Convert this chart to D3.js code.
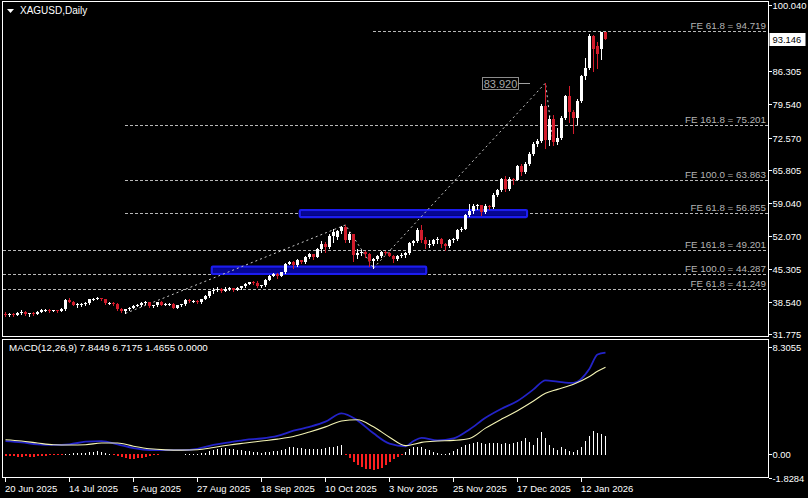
<!DOCTYPE html>
<html><head><meta charset="utf-8">
<script src="https://cdn.jsdelivr.net/npm/d3@7"></script>
<style>
html,body{margin:0;padding:0;background:#000;}
svg{display:block;}
text{font-family:"Liberation Sans",Arial,sans-serif;}
</style></head><body>
<svg id="c" width="808" height="498"></svg>
<script>
// ---- DATA (bar index 0 = 20 Jun 2025, daily bars) ----
const opens  = [36.0,35.9,36.0,35.8,36.1,36.5,36.0,36.1,36.0,36.5,36.8,36.9,36.7,36.8,36.6,37.0,38.9,38.5,37.9,38.0,38.1,38.2,39.0,39.2,39.3,39.0,38.2,38.3,38.1,37.1,36.7,37.0,37.3,37.7,37.8,38.3,38.4,37.6,37.8,38.4,37.9,38.0,38.1,37.3,37.8,38.0,38.9,38.6,38.7,38.4,39.1,39.7,40.7,40.9,41.2,40.8,41.2,41.3,41.0,41.3,41.7,42.3,42.6,42.5,41.7,42.0,43.1,43.9,44.2,43.9,44.6,46.4,46.8,46.2,47.1,46.7,47.8,48.4,47.9,49.4,50.6,49.8,52.2,52.0,53.2,54.1,51.3,52.5,48.3,48.6,48.9,48.5,46.9,47.4,48.0,48.8,48.6,48.1,47.4,48.0,48.2,48.6,50.8,51.2,53.4,51.4,50.5,50.6,51.3,51.5,50.5,50.0,51.3,51.6,53.4,53.7,56.5,57.4,58.4,58.6,57.1,58.3,58.2,60.7,61.8,63.9,62.0,64.0,63.8,66.6,65.5,67.2,69.1,71.3,71.8,79.2,72.1,76.5,71.6,72.6,76.6,81.2,77.8,76.6,80.1,85.3,87.0,93.6,91.6,90.9,94.4];
const highs  = [36.3,36.2,36.1,36.3,36.8,36.6,36.2,36.3,36.6,37.0,37.0,37.0,36.9,36.9,37.2,39.0,39.3,38.7,38.2,38.3,38.4,39.1,39.3,39.5,39.4,39.1,38.5,38.4,38.2,37.2,37.1,37.5,37.8,38.0,38.4,38.6,38.5,37.9,38.5,38.6,38.2,38.2,38.2,37.9,38.1,39.0,39.1,38.8,38.8,39.2,39.9,40.8,41.3,41.5,41.3,41.6,41.5,41.4,41.5,41.8,42.5,42.7,42.9,42.8,42.1,43.2,44.0,44.5,44.4,44.7,46.6,47.0,46.9,47.3,47.2,48.0,48.7,48.5,49.6,51.2,51.0,52.6,53.6,53.5,54.3,54.47,52.9,52.6,49.4,49.2,49.0,48.7,47.6,48.3,49.0,49.1,48.9,48.3,48.2,48.6,48.8,51.0,51.4,53.8,54.4,52.0,51.3,51.6,51.9,51.8,50.8,51.6,51.8,53.7,54.0,56.8,58.8,58.9,58.9,58.7,58.9,58.7,61.0,62.0,64.2,64.6,64.4,64.3,66.9,67.1,67.5,69.5,71.6,72.3,79.5,83.92,77.0,77.2,74.5,77.0,81.5,83.2,78.3,80.5,85.6,89.2,94.0,93.9,92.4,94.6,94.6];
const lows   = [35.6,35.6,35.5,35.7,36.0,35.8,35.5,35.8,35.9,36.4,36.7,36.5,36.6,36.4,36.6,36.9,38.4,37.8,37.4,37.7,37.9,38.1,38.8,39.0,38.9,38.1,38.0,37.9,36.9,36.5,36.12,36.9,37.2,37.6,37.7,38.1,37.4,37.5,37.7,37.8,37.8,37.9,37.2,37.2,37.7,37.8,38.5,38.4,38.2,38.3,39.0,39.6,40.3,40.8,40.6,40.7,41.0,40.8,40.9,41.2,41.6,42.2,42.3,41.5,41.6,41.9,43.0,43.8,43.4,43.8,44.5,46.3,45.5,46.0,46.5,46.6,47.7,47.4,47.8,48.9,48.9,49.7,50.9,51.5,52.8,50.9,50.9,47.0,47.6,48.2,47.8,46.0,45.517,47.2,47.8,48.4,48.0,46.8,47.1,47.8,47.9,48.5,50.4,50.9,51.0,49.6,49.9,50.3,50.8,49.9,49.3,49.8,50.9,51.4,53.2,53.6,56.3,57.0,57.8,56.5,57.0,57.7,58.0,60.4,61.5,61.5,61.8,62.9,63.7,64.8,65.3,67.0,68.9,70.8,71.6,70.5,71.0,70.986,71.2,72.3,76.4,75.9,73.6,75.4,80.0,84.8,86.8,86.5,87.1,88.8,93.0];
const closes = [35.9,36.0,35.8,36.1,36.5,36.0,36.1,36.0,36.5,36.8,36.9,36.7,36.8,36.6,37.0,38.9,38.5,37.9,38.0,38.1,38.2,39.0,39.2,39.3,39.0,38.2,38.3,38.1,37.1,36.7,37.0,37.3,37.7,37.8,38.3,38.4,37.6,37.8,38.4,37.9,38.0,38.1,37.3,37.8,38.0,38.9,38.6,38.7,38.4,39.1,39.7,40.7,40.9,41.2,40.8,41.2,41.3,41.0,41.3,41.7,42.3,42.6,42.5,41.7,42.0,43.1,43.9,44.2,43.9,44.6,46.4,46.8,46.2,47.1,46.7,47.8,48.4,47.9,49.4,50.6,49.8,52.2,53.0,53.2,54.1,51.3,52.5,48.3,48.6,48.9,48.5,46.9,47.4,48.0,48.8,48.6,48.1,47.4,48.0,48.2,48.6,50.8,51.2,53.4,51.4,50.5,50.6,51.3,51.5,50.5,50.0,51.3,51.6,53.4,53.7,56.5,57.4,58.4,58.6,57.1,58.3,58.2,60.7,61.8,63.9,62.0,64.0,63.8,66.6,65.5,67.2,69.1,71.3,71.8,79.2,72.1,76.5,71.6,72.6,76.6,81.2,77.8,76.6,80.1,85.3,87.0,93.6,91.0,89.9,94.4,93.146];

const dateTickIdx    = [0,16,32,48,64,80,96,112,128,144];
const dateTickLabels = ["20 Jun 2025","14 Jul 2025","5 Aug 2025","27 Aug 2025","18 Sep 2025","10 Oct 2025","3 Nov 2025","25 Nov 2025","17 Dec 2025","12 Jan 2026"];
const priceTicks      = [100.040,86.305,79.540,72.570,65.805,59.040,52.070,45.305,38.540,31.775];
const priceTickLabels = ["100.040","86.305","79.540","72.570","65.805","59.040","52.070","45.305","38.540","31.775"];
const currentPrice = 93.146;

// Fibonacci expansion levels: label, price, bar index where the level starts (null = off chart)
const feLabels = ["FE 61.8 = 94.719","FE 161.8 = 75.201","FE 100.0 = 63.863","FE 61.8 = 56.855","FE 161.8 = 49.201","FE 100.0 = 44.287","FE 61.8 = 41.249"];
const feValues = [94.719,75.201,63.863,56.855,49.201,44.287,41.249];
const feStart  = [92,30,30,30,null,null,null];

// Expansion anchor points (bar index, price): A -> B -> C
const fe1Idx = [30,85,92],  fe1Val = [36.12,54.47,45.517];
const fe2Idx = [92,135,137], fe2Val = [45.517,83.92,70.986];
const peakLabel = "83.920";

// Zones (bar index from/to, price top/bottom)
const zoneFrom = [73.7,51.7], zoneTo = [130.5,105.3];
const zoneTop  = [57.55,45.8], zoneBottom = [56.1,44.3];

// MACD(12,26,9)
const macdIdx    = [0,4,8,12,16,20,24,28,32,36,40,44,48,52,56,60,64,68,72,76,80,84,88,92,96,100,102,104,108,112,116,120,124,128,132,135,138,142,146,148,150];
const macdMain   = [1.0,0.9,0.75,0.7,0.75,0.95,1.0,0.75,0.45,0.3,0.3,0.3,0.4,0.7,0.9,1.1,1.2,1.4,1.8,2.1,2.5,3.15,2.6,1.6,0.8,0.6,1.0,1.25,1.05,1.2,1.9,2.8,3.5,4.1,5.0,5.7,5.6,5.5,6.6,7.7,7.85];
const macdSignal = [1.1,1.0,0.85,0.72,0.7,0.72,0.85,0.85,0.6,0.4,0.32,0.3,0.33,0.5,0.7,0.85,1.0,1.15,1.35,1.7,2.1,2.55,2.65,2.1,1.3,0.65,0.75,0.9,1.0,1.05,1.2,2.0,2.7,3.35,4.1,4.7,5.0,5.4,6.0,6.4,6.72];
const macdHist = [-0.12,-0.15,-0.18,-0.2,-0.2,-0.18,-0.2,-0.2,-0.18,-0.15,-0.12,-0.1,-0.08,-0.06,-0.04,
 0.05,0.1,0.12,0.15,0.15,0.18,0.2,0.25,0.28,0.25,
 0.12,0.05,-0.05,
 -0.15,-0.22,-0.3,-0.35,-0.35,-0.32,-0.28,-0.2,-0.12,
 -0.05,-0.02,0.02,0.03,0.03,0.02,0.01,0.02,0.04,0.06,0.05,0.08,
 0.12,0.18,0.3,0.4,0.5,0.55,0.55,0.5,0.45,0.4,
 0.35,0.3,0.28,0.25,0.2,0.18,0.2,0.25,0.3,0.3,
 0.35,0.5,0.6,0.6,0.55,0.55,0.5,0.5,0.45,0.45,0.5,0.55,0.6,0.65,0.7,0.75,
 -0.1,-0.3,-0.6,-0.85,-1.0,-1.15,-1.2,-1.25,-1.2,-1.05,-0.85,-0.6,-0.4,-0.2,-0.05,
 0.25,0.45,0.6,0.65,0.6,0.5,0.35,
 0.2,0.12,0.05,0.08,0.15,
 0.3,0.45,0.6,0.75,0.85,0.9,
 1.0,0.9,0.85,0.9,0.95,0.9,0.85,0.9,0.85,0.9,1.0,1.1,1.3,1.0,0.8,1.3,1.75,
 1.3,0.8,0.55,0.35,0.6,0.45,0.3,0.25,0.35,
 0.6,1.1,1.5,1.85,1.7,1.6,1.47];
const macdTicks = [8.3055,0.0,-1.8284];
const macdTickLabels = ["8.3055","0.00","-1.8284"];
const macdTitle = "MACD(12,26,9) 7.8449 6.7175 1.4655 0.0000";
const chartTitle = "XAGUSD,Daily";

// ---- LAYOUT ----
const W = 808, H = 498;
const L = 2.5, R = 768.5;
const mainTop = 1.5, mainBot = 336.5;
const subTop = 339.5, subBot = 477.5;

const svg = d3.select("#c");
svg.append("rect").attr("width",W).attr("height",H).attr("fill","#000");

const x = d3.scaleLinear().domain([0,150]).range([5,605]);
const y = d3.scaleLinear().domain([31.775,100.040]).range([334.3,5.3]);
const ym = d3.scaleLinear().domain([-1.8284,8.3055]).range([477.6,346.7]);
const cx = i => Math.round(x(i)) + 0.5;
const py = v => Math.round(y(v)) + 0.5;

const gMain = svg.append("g");

// FE level lines
feValues.forEach((v,k) => {
  const x0 = feStart[k] === null ? L : x(feStart[k]);
  gMain.append("line").attr("x1",x0).attr("x2",R-1).attr("y1",py(v)).attr("y2",py(v))
    .attr("stroke","#b8b8b8").attr("stroke-width",1).attr("stroke-dasharray","3,2")
    .attr("shape-rendering","crispEdges");
  gMain.append("text").attr("x",766).attr("y",py(v)-3).attr("text-anchor","end")
    .attr("fill","#b4b4b4").attr("font-size",9.8).text(feLabels[k]);
});

// Zones
zoneFrom.forEach((f,k) => {
  const x0 = x(f), x1 = x(zoneTo[k]);
  const y0 = y(zoneTop[k]), y1 = y(zoneBottom[k]);
  gMain.append("rect").attr("x",x0).attr("y",y0).attr("width",x1-x0).attr("height",y1-y0)
    .attr("fill","#000070").attr("stroke","#1c1cf0").attr("stroke-width",2.2).attr("rx",1);
  gMain.append("rect").attr("x",x0+1.5).attr("y",y0+1.5).attr("width",x1-x0-3).attr("height",Math.max(0,y1-y0-3))
    .attr("fill","#0a0aa8").attr("opacity",0.6);
});

// Expansion trend lines
[[fe1Idx,fe1Val],[fe2Idx,fe2Val]].forEach(([ix,vv]) => {
  const pts = ix.map((i,k)=>[x(i)+0.5, y(vv[k])]);
  gMain.append("path").attr("d",d3.line()(pts)).attr("fill","none")
    .attr("stroke","#c8c8c8").attr("stroke-width",1).attr("stroke-dasharray","2,3");
});

// Candles
const n = closes.length;
const red = "#d41c2c";
for (let i=0;i<n;i++){
  const up = closes[i] >= opens[i];
  const col = up ? "#ffffff" : red;
  const c = cx(i);
  gMain.append("line").attr("x1",c).attr("x2",c).attr("y1",Math.round(y(highs[i]))).attr("y2",Math.round(y(lows[i]))+1)
    .attr("stroke",col).attr("stroke-width",1).attr("shape-rendering","crispEdges");
  const t = Math.round(y(Math.max(opens[i],closes[i])));
  const b = Math.round(y(Math.min(opens[i],closes[i])));
  gMain.append("rect").attr("x",c-1.5).attr("y",t).attr("width",3).attr("height",Math.max(1,b-t))
    .attr("fill",col).attr("shape-rendering","crispEdges");
}

// Peak price label
{
  const pxB = x(fe2Idx[1]);
  const yy = Math.round(y(peakLabel*1)) + 0.5;
  gMain.append("rect").attr("x",pxB-62.5).attr("y",yy-6).attr("width",36).attr("height",12)
    .attr("fill","#000").attr("stroke","#8c8c8c").attr("stroke-width",1);
  gMain.append("text").attr("x",pxB-44.5).attr("y",yy+4.2).attr("text-anchor","middle")
    .attr("fill","#a8a8a8").attr("font-size",11).text(peakLabel);
  gMain.append("line").attr("x1",pxB-26.5).attr("x2",pxB-15).attr("y1",yy).attr("y2",yy)
    .attr("stroke","#a0a0a0").attr("stroke-width",1);
}

// Frames
svg.append("rect").attr("x",L).attr("y",mainTop).attr("width",R-L).attr("height",mainBot-mainTop)
  .attr("fill","none").attr("stroke","#ffffff").attr("stroke-width",1).attr("shape-rendering","crispEdges");
svg.append("rect").attr("x",L).attr("y",subTop).attr("width",R-L).attr("height",subBot-subTop)
  .attr("fill","none").attr("stroke","#ffffff").attr("stroke-width",1).attr("shape-rendering","crispEdges");

// Price axis
priceTicks.forEach((v,k)=>{
  const yy = py(v);
  svg.append("line").attr("x1",R).attr("x2",R+3).attr("y1",yy).attr("y2",yy).attr("stroke","#fff").attr("shape-rendering","crispEdges");
  svg.append("text").attr("x",772.5).attr("y",yy+3.5).attr("fill","#ffffff").attr("font-size",9.4).text(priceTickLabels[k]);
});
// Current price box
{
  const yy = py(currentPrice);
  svg.append("rect").attr("x",769.5).attr("y",yy-6.5).attr("width",36).attr("height",13).attr("fill","#ffffff");
  svg.append("text").attr("x",772.5).attr("y",yy+3.5).attr("fill","#000").attr("font-size",9.4).text(currentPrice.toFixed(3));
}

// Title
svg.append("path").attr("d","M7,9 L14,9 L10.5,13 Z").attr("fill","#fff");
svg.append("text").attr("x",20).attr("y",14).attr("fill","#fff").attr("font-size",10).text(chartTitle);

// MACD panel
const gSub = svg.append("g");
const y0m = Math.round(ym(0)) + 0.5;
macdHist.forEach((v,i)=>{
  const c = cx(i);
  if (v >= 0) {
    gSub.append("line").attr("x1",c).attr("x2",c).attr("y1",y0m).attr("y2",Math.round(ym(v))+0.5)
      .attr("stroke","#ffffff").attr("stroke-width",1).attr("shape-rendering","crispEdges");
  } else {
    const yb = Math.round(ym(v));
    gSub.append("rect").attr("x",c-0.5).attr("y",y0m-0.5).attr("width",2).attr("height",Math.max(1,yb-(y0m-0.5)))
      .attr("fill","#ff2020").attr("shape-rendering","crispEdges");
  }
});
const mline = d3.line().x((d)=>x(d[0])+0.5).y(d=>ym(d[1])).curve(d3.curveMonotoneX);
gSub.append("path").attr("d",mline(macdIdx.map((i,k)=>[i,macdMain[k]])))
  .attr("fill","none").attr("stroke","#2323c8").attr("stroke-width",1.8);
gSub.append("path").attr("d",mline(macdIdx.map((i,k)=>[i,macdSignal[k]])))
  .attr("fill","none").attr("stroke","#f4f4b4").attr("stroke-width",1.1);
gSub.append("text").attr("x",9).attr("y",351).attr("fill","#fff").attr("font-size",9.8).text(macdTitle);
macdTicks.forEach((v,k)=>{
  const yy = Math.round(ym(v)) + 0.5;
  svg.append("line").attr("x1",R).attr("x2",R+3).attr("y1",yy).attr("y2",yy).attr("stroke","#fff").attr("shape-rendering","crispEdges");
  svg.append("text").attr("x",772.5).attr("y",yy+3.5).attr("fill","#fff").attr("font-size",9.4).text(macdTickLabels[k]);
});

// Date axis
dateTickIdx.forEach((i,k)=>{
  const xx = Math.round(x(i)) + 0.5;
  svg.append("line").attr("x1",xx).attr("x2",xx).attr("y1",subBot).attr("y2",subBot+4).attr("stroke","#fff").attr("shape-rendering","crispEdges");
  svg.append("text").attr("x",xx-0.5).attr("y",492).attr("fill","#fff").attr("font-size",9.5).text(dateTickLabels[k]);
});
</script>
</body></html>
